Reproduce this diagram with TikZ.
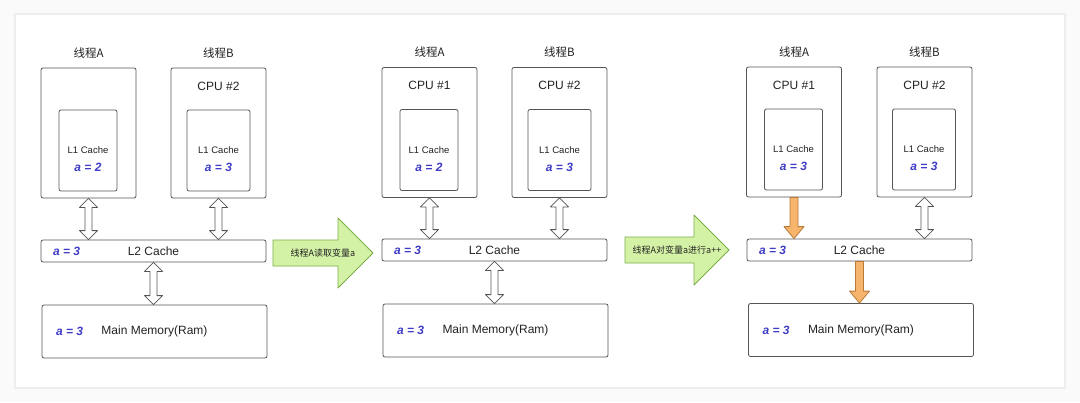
\documentclass[tikz,border=0pt]{standalone}
\usepackage{fontspec}
\setmainfont{Liberation Sans}
\newfontfamily\cjk{Noto Sans CJK SC}
\usetikzlibrary{calc}

\definecolor{rahmen}{HTML}{555555}
\definecolor{schrift}{HTML}{222222}
\definecolor{wertblau}{HTML}{3F3CC6}
\definecolor{gruenfill}{HTML}{D4F2A6}
\definecolor{gruenrand}{HTML}{7AAE45}
\definecolor{orangefill}{HTML}{F6B46C}
\definecolor{orangerand}{HTML}{B97A38}

% hollow two-way arrow between two points on one vertical
\newcommand{\duplex}[2]{%
  \draw[hollow] let \p1=(#1), \p2=(#2) in
    (\x1,\y1) -- ({\x1+9pt},{\y1-9pt}) -- ({\x1+3.5pt},{\y1-9pt}) -- ({\x1+3.5pt},{\y2+9pt})
    -- ({\x1+9pt},{\y2+9pt}) -- (\x1,\y2) -- ({\x1-9pt},{\y2+9pt}) -- ({\x1-3.5pt},{\y2+9pt})
    -- ({\x1-3.5pt},{\y1-9pt}) -- ({\x1-9pt},{\y1-9pt}) -- cycle;}
% filled one-way arrow, downwards
\newcommand{\push}[2]{%
  \draw[pushed] let \p1=(#1), \p2=(#2) in
    ({\x1-4pt},\y1) -- ({\x1+4pt},\y1) -- ({\x1+4pt},{\y2+12pt}) -- ({\x1+10pt},{\y2+12pt})
    -- (\x1,\y2) -- ({\x1-10pt},{\y2+12pt}) -- ({\x1-4pt},{\y2+12pt}) -- cycle;}
% big step arrow with its text: name, centre, half length, text
\newcommand{\stepnote}[4]{%
  \draw[stepfill] let \p1=(#2) in
    ({\x1-#3pt},{\y1+13pt}) -- ({\x1+#3pt-35pt},{\y1+13pt}) -- ({\x1+#3pt-35pt},{\y1+35pt})
    -- ({\x1+#3pt},\y1) -- ({\x1+#3pt-35pt},{\y1-35pt}) -- ({\x1+#3pt-35pt},{\y1-13pt})
    -- ({\x1-#3pt},{\y1-13pt}) -- cycle;
  \node[steptext] (#1) at (#2) {#4};}

\begin{document}
\begin{tikzpicture}[
  x=1pt, y=-1pt,
  unit/.style={draw=rahmen, line width=0.8pt, rounded corners=2pt, text=schrift},
  cpubox/.style={unit, minimum width=95pt, minimum height=130pt},
  l1box/.style={unit, minimum width=58pt, minimum height=81pt},
  l2box/.style={unit, minimum width=225pt, minimum height=22pt, inner sep=0pt,
                font=\fontsize{12}{14}\selectfont},
  membox/.style={unit, minimum width=225pt, minimum height=53pt, inner sep=0pt,
                 font=\fontsize{12}{14}\selectfont},
  title/.style={font=\cjk\fontsize{11.5}{13}\selectfont, text=schrift, inner sep=0pt},
  cpuname/.style={font=\fontsize{12}{14}\selectfont, text=schrift, inner sep=0pt},
  l1name/.style={font=\fontsize{9.5}{11}\selectfont, text=schrift, inner sep=0pt},
  val/.style={font=\bfseries\itshape\fontsize{12}{14}\selectfont, text=wertblau, inner sep=0pt},
  steptext/.style={font=\cjk\fontsize{9}{11}\selectfont, text=schrift, inner sep=0pt},
  stepfill/.style={draw=gruenrand, fill=gruenfill, line width=0.8pt, line join=round},
  hollow/.style={draw=rahmen, fill=white, line width=0.8pt, line join=round},
  pushed/.style={draw=orangerand, fill=orangefill, line width=0.8pt, line join=round}
]
\useasboundingbox (0,0) rectangle (1080,402);
\fill[black!2] (0,0) rectangle (1080,402);
\draw[black!7, line width=2pt, fill=white] (15,14) rectangle (1065,388);

% before
\node[title] (thA1) at (88.5,53) {线程A};
\node[title] (thB1) at (218.5,53) {线程B};
\node[cpubox] (cpuA1) at (88.5,133) {};
\node[cpubox] (cpuB1) at (218.5,133) {};
\node[cpuname] (nameB1) at ([yshift=-18.5pt]cpuB1.north) {CPU \#2};
\node[l1box] (l1A1) at (88,150.5) {};
\node[l1box, minimum width=63pt] (l1B1) at (218.5,150.5) {};
\node[l1name] (l1tA1) at (l1A1.center) {L1 Cache};
\node[val] (valA1) at ([yshift=-17pt]l1A1.center) {a = 2};
\node[l1name] (l1tB1) at (l1B1.center) {L1 Cache};
\node[val] (valB1) at ([yshift=-17pt]l1B1.center) {a = 3};
\node[l2box] (l2p1) at (153.5,251) {L2 Cache};
\node[val] (l2v1) at ([xshift=26pt]l2p1.west) {a = 3};
\node[membox] (memp1) at (154.5,331.5) {Main Memory(Ram)};
\node[val] (memv1) at ([xshift=28pt]memp1.west) {a = 3};
\duplex{cpuA1.south}{cpuA1.south |- l2p1.north}
\duplex{cpuB1.south}{cpuB1.south |- l2p1.north}
\duplex{l2p1.south}{l2p1.south |- memp1.north}

\stepnote{readA}{323,253}{50}{线程A读取变量a}

% after the read
\node[title] (thA2) at (429.5,52) {线程A};
\node[title] (thB2) at (559.5,52) {线程B};
\node[cpubox] (cpuA2) at (429.5,132.5) {};
\node[cpubox] (cpuB2) at (559.5,132.5) {};
\node[cpuname] (nameA2) at ([yshift=-18.5pt]cpuA2.north) {CPU \#1};
\node[cpuname] (nameB2) at ([yshift=-18.5pt]cpuB2.north) {CPU \#2};
\node[l1box] (l1A2) at (429,150) {};
\node[l1box, minimum width=63pt] (l1B2) at (559.5,150) {};
\node[l1name] (l1tA2) at (l1A2.center) {L1 Cache};
\node[val] (valA2) at ([yshift=-17pt]l1A2.center) {a = 2};
\node[l1name] (l1tB2) at (l1B2.center) {L1 Cache};
\node[val] (valB2) at ([yshift=-17pt]l1B2.center) {a = 3};
\node[l2box] (l2p2) at (494.5,250) {L2 Cache};
\node[val] (l2v2) at ([xshift=26pt]l2p2.west) {a = 3};
\node[membox] (memp2) at (495.5,330.5) {Main Memory(Ram)};
\node[val] (memv2) at ([xshift=28pt]memp2.west) {a = 3};
\duplex{cpuA2.south}{cpuA2.south |- l2p2.north}
\duplex{cpuB2.south}{cpuB2.south |- l2p2.north}
\duplex{l2p2.south}{l2p2.south |- memp2.north}

\stepnote{incA}{677,250}{52}{线程A对变量a进行a++}

% after a++
\node[title] (thA3) at (794,52) {线程A};
\node[title] (thB3) at (924.5,52) {线程B};
\node[cpubox] (cpuA3) at (794,132) {};
\node[cpubox] (cpuB3) at (924.5,132) {};
\node[cpuname] (nameA3) at ([yshift=-18.5pt]cpuA3.north) {CPU \#1};
\node[cpuname] (nameB3) at ([yshift=-18.5pt]cpuB3.north) {CPU \#2};
\node[l1box] (l1A3) at (793.5,149.5) {};
\node[l1box, minimum width=63pt] (l1B3) at (924,149.5) {};
\node[l1name] (l1tA3) at (l1A3.center) {L1 Cache};
\node[val] (valA3) at ([yshift=-17pt]l1A3.center) {a = 3};
\node[l1name] (l1tB3) at (l1B3.center) {L1 Cache};
\node[val] (valB3) at ([yshift=-17pt]l1B3.center) {a = 3};
\node[l2box] (l2p3) at (859.5,250) {L2 Cache};
\node[val] (l2v3) at ([xshift=26pt]l2p3.west) {a = 3};
\node[membox] (memp3) at (861,330) {Main Memory(Ram)};
\node[val] (memv3) at ([xshift=28pt]memp3.west) {a = 3};
\push{cpuA3.south}{cpuA3.south |- l2p3.north}
\duplex{cpuB3.south}{cpuB3.south |- l2p3.north}
\push{l2p3.south}{l2p3.south |- memp3.north}
\end{tikzpicture}
\end{document}
